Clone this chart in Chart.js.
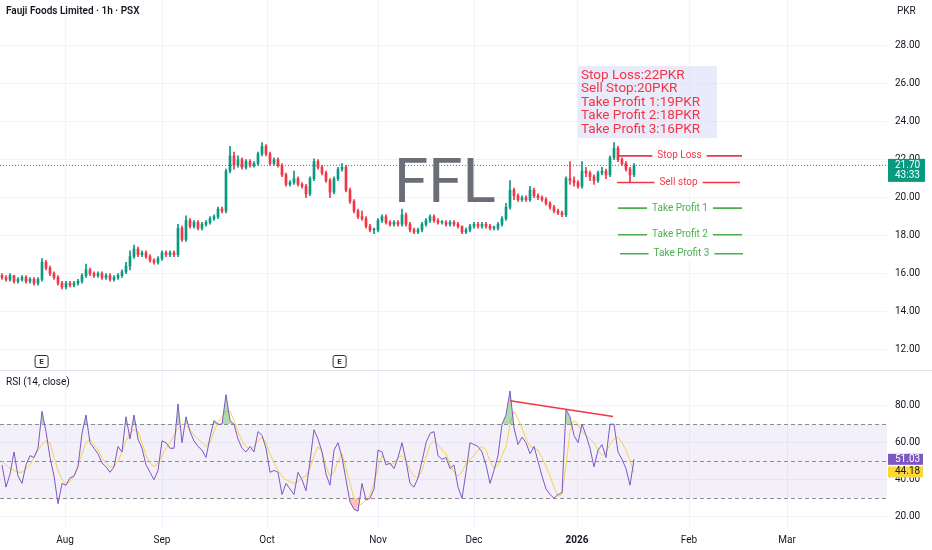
<!DOCTYPE html>
<html>
<head>
<meta charset="utf-8">
<script src="https://cdn.jsdelivr.net/npm/chart.js@4.4.1/dist/chart.umd.min.js"></script>
<style>
html, body { margin: 0; padding: 0; background: #fff; }
#wrap { position: relative; width: 932px; height: 550px; overflow: hidden; }
#pricebox { position: absolute; left: 0; top: 0; width: 932px; height: 370px; }
#rsibox { position: absolute; left: 0; top: 370px; width: 932px; height: 180px; }
</style>
</head>
<body>
<div id="wrap">
  <div id="pricebox"><canvas id="price"></canvas></div>
  <div id="rsibox"><canvas id="rsi"></canvas></div>
</div>
<script>
// hourly bars, resampled by eye from the picture
var opens = [15.9,15.8,15.7,15.9,15.6,15.7,15.8,15.6,15.7,15.5,
  15.7,16.6,16.3,16.0,15.8,15.5,15.3,15.5,15.4,15.5,
  15.6,15.9,16.2,16.0,15.9,16.0,15.8,15.9,15.7,15.8,
  15.9,16.1,16.4,16.9,17.3,17.0,17.1,16.9,16.7,16.6,
  16.8,17.1,17.0,17.1,17.0,18.4,17.8,18.8,18.5,18.7,
  18.4,18.6,18.7,18.9,19.0,19.4,19.3,21.4,22.2,21.7,
  22.0,21.6,21.9,21.7,21.8,22.3,22.7,22.3,21.8,22.0,
  21.7,21.2,20.7,20.8,21.0,20.7,20.6,20.2,21.0,21.9,
  21.6,21.3,20.9,20.3,21.0,21.5,21.6,20.4,19.8,19.3,
  19.0,18.9,18.5,18.3,18.3,18.8,19.0,18.7,18.6,18.7,
  18.6,19.1,18.6,18.3,18.2,18.3,18.6,18.8,19.0,18.8,
  18.7,18.7,18.6,18.7,18.6,18.5,18.2,18.3,18.5,18.6,
  18.5,18.6,18.5,18.4,18.4,18.6,18.9,19.5,20.4,20.1,
  19.9,20.0,19.9,20.4,20.1,20.0,19.9,19.7,19.5,19.3,
  19.2,19.1,21.0,20.9,20.8,20.6,21.4,21.3,21.1,20.9,
  21.3,21.4,21.2,22.1,22.6,22.0,21.8,21.5,21.2];
var highs = [16.0,15.9,16.0,15.9,15.8,15.9,15.9,15.8,15.8,15.8,
  16.8,16.7,16.4,16.1,15.9,15.6,15.6,15.6,15.6,15.7,
  16.0,16.5,16.3,16.1,16.1,16.1,16.0,16.0,15.9,16.0,
  16.2,16.6,17.2,17.5,17.4,17.2,17.2,17.0,16.8,16.9,
  17.2,17.2,17.2,17.2,18.6,18.5,19.05,18.9,18.8,18.8,
  18.7,18.8,19.0,19.1,19.5,19.5,21.5,22.7,22.4,22.2,
  22.1,22.0,22.0,21.9,22.4,22.9,22.8,22.4,22.1,22.1,
  21.8,21.3,20.9,21.4,21.1,20.8,20.7,21.1,22.05,22.0,
  21.7,21.4,21.0,21.1,21.6,21.8,21.7,20.5,19.9,19.4,
  19.3,19.0,18.6,18.4,18.9,19.1,19.1,18.8,18.8,18.8,
  19.4,19.2,18.7,18.4,18.4,18.7,18.9,19.1,19.1,18.9,
  18.8,18.8,18.8,18.8,18.7,18.5,18.4,18.6,18.7,18.7,
  18.7,18.7,18.6,18.5,18.7,19.0,19.7,20.9,20.5,20.2,
  20.1,20.1,20.6,20.5,20.2,20.1,20.0,19.8,19.6,19.4,
  19.3,21.1,21.9,21.1,20.9,21.9,21.6,21.4,21.2,21.4,
  21.6,21.5,22.2,22.9,22.7,22.1,21.9,21.6,21.8];
var lows = [15.7,15.6,15.6,15.5,15.5,15.6,15.5,15.5,15.4,15.4,
  15.6,16.2,15.9,15.7,15.4,15.2,15.2,15.3,15.3,15.4,
  15.5,15.8,15.9,15.8,15.8,15.7,15.7,15.6,15.6,15.7,
  15.8,16.0,16.2,16.8,16.9,16.9,16.8,16.6,16.5,16.5,
  16.7,16.9,16.9,16.9,16.9,17.7,17.7,18.4,18.4,18.3,
  18.3,18.5,18.6,18.8,18.9,19.2,19.2,21.3,21.5,21.6,
  21.5,21.5,21.6,21.6,21.7,22.2,22.2,21.7,21.7,21.6,
  21.1,20.6,20.6,20.7,20.6,20.5,20.0,20.1,20.9,21.5,
  21.2,20.8,20.0,20.2,20.9,21.4,20.3,19.7,19.2,18.9,
  18.8,18.4,18.2,18.1,18.2,18.7,18.6,18.5,18.5,18.5,
  18.5,18.5,18.2,18.1,18.1,18.2,18.5,18.7,18.7,18.6,
  18.6,18.5,18.5,18.5,18.4,18.1,18.1,18.2,18.4,18.4,
  18.4,18.4,18.3,18.3,18.3,18.5,18.8,19.4,19.9,19.8,
  19.8,19.8,19.8,20.0,19.9,19.8,19.6,19.4,19.2,19.1,
  19.0,19.0,20.7,20.6,20.5,20.5,21.1,20.9,20.7,20.8,
  21.2,21.0,21.1,22.0,21.9,21.7,21.4,20.8,21.1];
var closes = [15.8,15.7,15.9,15.6,15.7,15.8,15.6,15.7,15.5,15.7,
  16.6,16.3,16.0,15.8,15.5,15.3,15.5,15.4,15.5,15.6,
  15.9,16.2,16.0,15.9,16.0,15.8,15.9,15.7,15.8,15.9,
  16.1,16.4,16.9,17.3,17.0,17.1,16.9,16.7,16.6,16.8,
  17.1,17.0,17.1,17.0,18.4,17.8,18.8,18.5,18.7,18.4,
  18.6,18.7,18.9,19.0,19.4,19.3,21.4,22.2,21.7,22.0,
  21.6,21.9,21.7,21.8,22.3,22.7,22.3,21.8,22.0,21.7,
  21.2,20.7,20.8,21.0,20.7,20.6,20.2,21.0,21.9,21.6,
  21.3,20.9,20.3,21.0,21.5,21.6,20.4,19.8,19.3,19.0,
  18.9,18.5,18.3,18.3,18.8,19.0,18.7,18.6,18.7,18.6,
  19.1,18.6,18.3,18.2,18.3,18.6,18.8,19.0,18.8,18.7,
  18.7,18.6,18.7,18.6,18.5,18.2,18.3,18.5,18.6,18.5,
  18.6,18.5,18.4,18.4,18.6,18.9,19.5,20.4,20.1,19.9,
  20.0,19.9,20.4,20.1,20.0,19.9,19.7,19.5,19.3,19.2,
  19.1,21.0,20.9,20.8,20.6,21.4,21.3,21.1,20.9,21.3,
  21.4,21.2,22.1,22.6,22.0,21.8,21.5,21.2,21.7];

var rsi = [48,36,43,55,42,38,48,53,52,57,
  77,66,52,42,27,38,37,41,42,47,
  65,75,60,57,54,49,47,44,47,58,
  55,74,62,75,62,57,48,44,40,45,
  61,60,57,57,81,60,74,66,61,58,
  56,52,63,72,70,70,86,72,70,62,
  57,55,58,55,66,64,57,44,45,44,
  32,38,35,32,44,40,34,50,67,62,
  55,43,37,56,60,52,40,28,24,23,
  38,29,30,35,56,55,48,49,46,52,
  60,50,38,36,41,50,60,65,66,53,
  51,52,46,48,36,30,44,60,59,58,
  55,48,38,45,53,70,75,88,68,59,
  63,60,54,58,50,42,35,32,30,32,
  33,78,74,64,60,70,64,57,47,56,
  59,52,70,70,55,51,46,37,51];
var rsiMa = [50,48,46,45,44,44,46,48,52,56,
  59,61,60,52,45,40,38,39,42,48,
  54,60,62,59,56,52,49,47,47,50,
  55,61,65,67,66,60,53,49,47,49,
  53,57,60,64,68,70,70,67,64,62,
  60,58,60,66,71,74,77,77,72,66,
  61,58,56,58,61,63,60,54,49,45,
  42,40,39,38,39,41,42,46,53,58,
  55,47,42,44,50,54,46,38,30,26,
  27,29,32,38,47,53,50,48,49,52,
  53,50,45,42,41,45,52,59,61,59,
  56,54,48,44,42,44,49,51,53,56,
  58,56,50,46,48,53,58,70,77,73,
  68,62,58,57,56,52,47,42,36,31,
  32,48,66,72,70,66,64,62,60,56,
  53,55,59,62,63,60,56,50,44];

var priceTicks = [28, 26, 24, 22, 20, 18, 16, 14, 12];
var rsiTicks = [80, 60, 40, 20];
var monthLabels = ["Aug", "Sep", "Oct", "Nov", "Dec", "2026", "Feb", "Mar"];
var monthPos = [15.75, 40, 66.25, 94, 118, 143.75, 171.75, 196.25];

var levelNames = ["Stop Loss", "Sell stop", "Take Profit 1", "Take Profit 2", "Take Profit 3"];
var levelPrices = [22.2, 20.8, 19.45, 18.05, 17.05];
var levelStart = [153.75, 153.75, 154, 154, 154.5];
var levelEnd = [185, 184.5, 185, 185, 185.25];
var noteLines = ["Stop Loss:22PKR", "Sell Stop:20PKR", "Take Profit 1:19PKR", "Take Profit 2:18PKR", "Take Profit 3:16PKR"];
var lastPrice = 21.70;
var earningsAt = [9.9, 84.4];
var divergenceX = [127, 152.75];
var divergenceY = [82.7, 74.2];

var UP = "#089981", DOWN = "#f23645", GREEN = "#4caf50", TXT = "#131722", GRID = "#f0f3fa";
var X_MIN = -0.5, X_MAX = 221.25;
var FONT = "Roboto, 'Noto Sans', sans-serif";

Chart.defaults.font.family = FONT;
Chart.defaults.font.size = 10;
Chart.defaults.color = TXT;

var candleColors = closes.map(function (c, i) { return c >= opens[i] ? UP : DOWN; });
var levelColors = levelNames.map(function (n, k) { return k < 2 ? DOWN : GREEN; });

function monthTicks(s) { s.ticks = monthPos.map(function (v) { return { value: v }; }); }

var pricePlugin = {
  id: "pricePane",
  beforeDatasetsDraw: function (chart) {
    var ctx = chart.ctx;
    ctx.save();
    ctx.fillStyle = "#6b6e77";
    ctx.font = "62px " + FONT;
    ctx.textAlign = "center";
    ctx.textBaseline = "middle";
    ctx.fillText("FFL", 445, 186);
    ctx.restore();
  },
  afterDraw: function (chart) {
    var ctx = chart.ctx, xs = chart.scales.x, ys = chart.scales.y, a = chart.chartArea;
    ctx.save();
    ctx.textBaseline = "middle";
    // header
    ctx.fillStyle = TXT;
    ctx.font = "600 10px " + FONT;
    ctx.textAlign = "left";
    ctx.fillText("Fauji Foods Limited \u00b7 1h \u00b7 PSX", 6, 11);
    ctx.font = "10px " + FONT;
    ctx.fillText("PKR", 897, 11);

    // level labels
    ctx.font = "10px " + FONT;
    ctx.textAlign = "center";
    levelNames.forEach(function (n, k) {
      var cx = (xs.getPixelForValue(levelStart[k]) + xs.getPixelForValue(levelEnd[k])) / 2;
      var cy = ys.getPixelForValue(levelPrices[k]);
      var w = ctx.measureText(n).width + 10;
      ctx.fillStyle = "#fff";
      ctx.fillRect(cx - w / 2, cy - 6, w, 12);
      ctx.fillStyle = levelColors[k];
      ctx.fillText(n, cx, cy);
    });

    // note box
    var bx = xs.getPixelForValue(144), by = ys.getPixelForValue(26.93);
    ctx.fillStyle = "rgba(218,222,246,0.6)";
    ctx.fillRect(bx, by, 139, 72);
    ctx.fillStyle = DOWN;
    ctx.font = "13.5px " + FONT;
    ctx.textAlign = "left";
    noteLines.forEach(function (t, k) { ctx.fillText(t, bx + 3, by + 9.5 + k * 13.5); });

    // earnings markers
    earningsAt.forEach(function (v) {
      var px = xs.getPixelForValue(v);
      ctx.strokeStyle = "#2a2e39";
      ctx.lineWidth = 1;
      ctx.beginPath();
      ctx.roundRect(px - 6.5, 355.5, 13, 12, 2);
      ctx.stroke();
      ctx.fillStyle = "#2a2e39";
      ctx.font = "bold 8px " + FONT;
      ctx.textAlign = "center";
      ctx.fillText("E", px, 362);
    });

    // last price tag
    var py = ys.getPixelForValue(lastPrice);
    ctx.fillStyle = UP;
    ctx.fillRect(a.right + 1, py - 6.5, 37, 23);
    ctx.fillStyle = "#fff";
    ctx.font = "10px " + FONT;
    ctx.textAlign = "left";
    ctx.fillText(lastPrice.toFixed(2), a.right + 8, py);
    ctx.fillText("43:33", a.right + 8, py + 10);
    ctx.restore();
  }
};

new Chart(document.getElementById("price"), {
  type: "bar",
  data: {
    datasets: [
      { label: "wick", data: closes.map(function (c, i) { return { x: i, y: [lows[i], highs[i]] }; }),
        backgroundColor: candleColors, barThickness: 1, grouped: false, order: 3 },
      { label: "body", data: closes.map(function (c, i) { return { x: i, y: [opens[i], c] }; }),
        backgroundColor: candleColors, barThickness: 2, grouped: false, minBarLength: 1, order: 2 },
      { type: "line", label: "last", data: [{ x: X_MIN, y: lastPrice }, { x: X_MAX, y: lastPrice }],
        borderColor: UP, borderWidth: 1, borderDash: [1, 2], pointRadius: 0, order: 4 }
    ].concat(levelNames.map(function (n, k) {
      return { type: "line", label: n,
        data: [{ x: levelStart[k], y: levelPrices[k] }, { x: levelEnd[k], y: levelPrices[k] }],
        borderColor: levelColors[k], borderWidth: 1.6, pointRadius: 0, order: 1 };
    }))
  },
  options: {
    responsive: true,
    maintainAspectRatio: false,
    animation: false,
    events: [],
    layout: { padding: 0 },
    plugins: { legend: { display: false }, tooltip: { enabled: false } },
    scales: {
      x: {
        type: "linear", min: X_MIN, max: X_MAX, offset: false,
        grid: { color: GRID, drawTicks: false, offset: false },
        border: { display: false },
        ticks: { display: false },
        afterBuildTicks: monthTicks,
        afterFit: function (s) { s.height = 0; s.paddingLeft = 0; s.paddingRight = 0; }
      },
      y: {
        position: "right", min: 10.93, max: 30.405, beginAtZero: false,
        grid: { color: GRID, drawTicks: false },
        border: { display: false },
        ticks: { color: TXT, padding: 8, callback: function (v) { return v.toFixed(2); } },
        afterBuildTicks: function (s) { s.ticks = priceTicks.map(function (v) { return { value: v }; }); },
        afterFit: function (s) { s.width = 45; s.paddingTop = 0; s.paddingBottom = 0; }
      }
    }
  },
  plugins: [pricePlugin]
});

var rsiPlugin = {
  id: "rsiPane",
  beforeDatasetsDraw: function (chart) {
    var ctx = chart.ctx, a = chart.chartArea, ys = chart.scales.y;
    var y70 = ys.getPixelForValue(70), y50 = ys.getPixelForValue(50), y30 = ys.getPixelForValue(30);
    ctx.save();
    ctx.fillStyle = "rgba(126,87,194,0.09)";
    ctx.fillRect(a.left, y70, a.right - a.left, y30 - y70);
    ctx.strokeStyle = "#8a8d96";
    ctx.lineWidth = 1;
    ctx.setLineDash([4, 3]);
    [y70, y50, y30].forEach(function (y) {
      ctx.beginPath();
      ctx.moveTo(a.left, Math.round(y) + 0.5);
      ctx.lineTo(a.right, Math.round(y) + 0.5);
      ctx.stroke();
    });
    ctx.restore();
  },
  afterDraw: function (chart) {
    var ctx = chart.ctx, a = chart.chartArea, ys = chart.scales.y;
    ctx.save();
    ctx.strokeStyle = "#e0e3eb";
    ctx.lineWidth = 1;
    ctx.beginPath();
    ctx.moveTo(0, 0.5);
    ctx.lineTo(932, 0.5);
    ctx.stroke();
    ctx.fillStyle = TXT;
    ctx.font = "10px " + FONT;
    ctx.textBaseline = "middle";
    ctx.textAlign = "left";
    ctx.fillText("RSI (14, close)", 6, 12);
    var yr = ys.getPixelForValue(51.03), ym = ys.getPixelForValue(44.18);
    ctx.fillStyle = "#7e57c2";
    ctx.fillRect(a.right + 1, yr - 5.5, 35, 11);
    ctx.fillStyle = "#fdd835";
    ctx.fillRect(a.right + 1, ym - 5.5, 35, 11);
    ctx.fillStyle = "#fff";
    ctx.fillText("51.03", a.right + 8, yr);
    ctx.fillStyle = TXT;
    ctx.fillText("44.18", a.right + 8, ym);
    ctx.restore();
  }
};

function pts(arr) { return arr.map(function (v, i) { return { x: i, y: v }; }); }

new Chart(document.getElementById("rsi"), {
  type: "line",
  data: {
    datasets: [
      { label: "RSI", data: pts(rsi), borderColor: "#7e57c2", borderWidth: 1, pointRadius: 0,
        fill: { target: { value: 70 }, above: "rgba(76,175,80,0.45)", below: "rgba(0,0,0,0)" }, order: 1 },
      { label: "RSI low", data: pts(rsi), borderColor: "rgba(0,0,0,0)", borderWidth: 0, pointRadius: 0,
        fill: { target: { value: 30 }, above: "rgba(0,0,0,0)", below: "rgba(242,54,69,0.3)" }, order: 3 },
      { label: "RSI MA", data: pts(rsiMa), borderColor: "#f2d34b", borderWidth: 1, pointRadius: 0,
        fill: false, order: 2 },
      { label: "divergence", data: divergenceX.map(function (x, k) { return { x: x, y: divergenceY[k] }; }),
        borderColor: DOWN, borderWidth: 1.6, pointRadius: 0, fill: false, order: 0 }
    ]
  },
  options: {
    responsive: true,
    maintainAspectRatio: false,
    animation: false,
    events: [],
    layout: { padding: 0 },
    plugins: { legend: { display: false }, tooltip: { enabled: false } },
    scales: {
      x: {
        type: "linear", min: X_MIN, max: X_MAX,
        grid: { color: GRID, drawTicks: false },
        border: { display: false },
        ticks: {
          color: TXT, padding: 7, maxRotation: 0, autoSkip: false,
          font: function (c) { return { size: 10, weight: c.index === 5 ? "bold" : "normal" }; },
          callback: function (v) { var k = monthPos.indexOf(v); return k < 0 ? "" : monthLabels[k]; }
        },
        afterBuildTicks: monthTicks,
        afterFit: function (s) { s.height = 23; s.paddingLeft = 0; s.paddingRight = 0; }
      },
      y: {
        position: "right", min: 14.44, max: 99.3,
        grid: { color: GRID, drawTicks: false },
        border: { display: false },
        ticks: { color: TXT, padding: 8, callback: function (v) { return v.toFixed(2); } },
        afterBuildTicks: function (s) { s.ticks = rsiTicks.map(function (v) { return { value: v }; }); },
        afterFit: function (s) { s.width = 45; s.paddingTop = 0; s.paddingBottom = 0; }
      }
    }
  },
  plugins: [rsiPlugin]
});
</script>
</body>
</html>
